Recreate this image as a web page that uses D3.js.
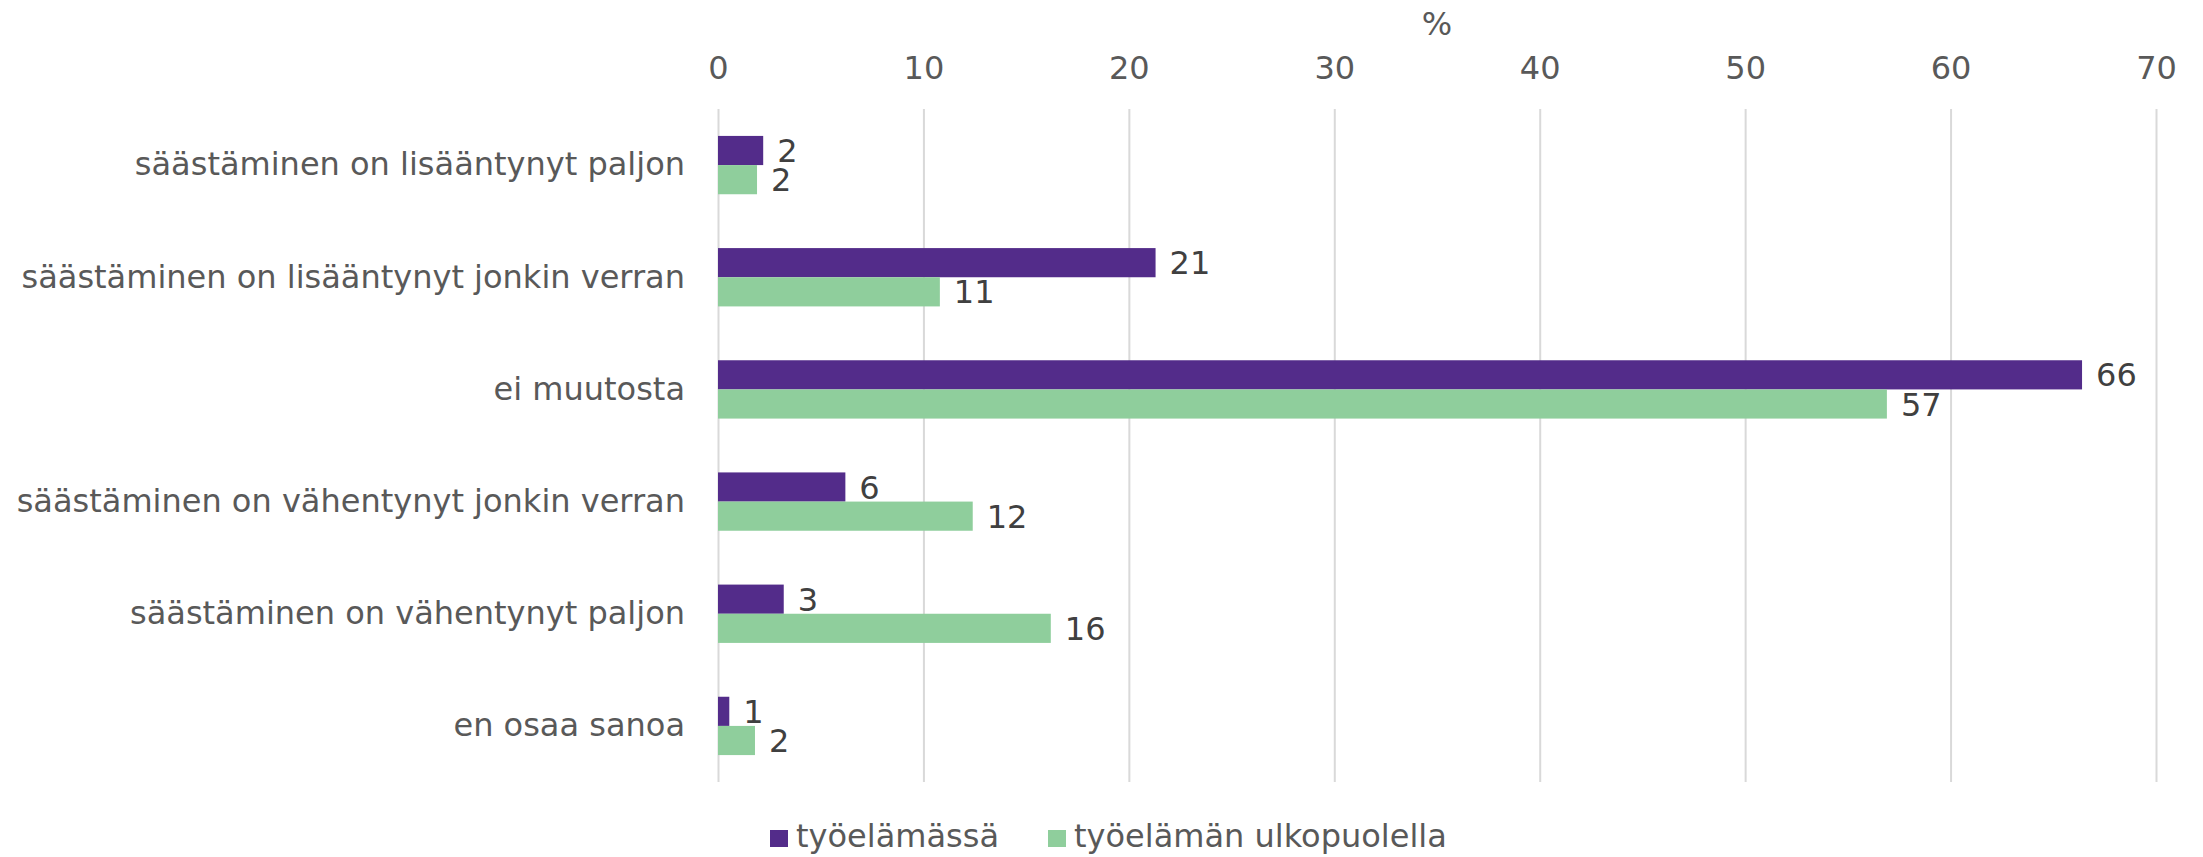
<!DOCTYPE html>
<html>
<head>
<meta charset="utf-8">
<script src="https://cdn.jsdelivr.net/npm/d3@7"></script>
<style>
  body { margin: 0; background: #fff; }
  svg text { font-family: "DejaVu Sans", Verdana, sans-serif; }
</style>
</head>
<body>
<svg id="chart" width="2203" height="857"></svg>
<script>
// categories, top to bottom
var categories = [
    "säästäminen on lisääntynyt paljon",
    "säästäminen on lisääntynyt jonkin verran",
    "ei muutosta",
    "säästäminen on vähentynyt jonkin verran",
    "säästäminen on vähentynyt paljon",
    "en osaa sanoa"
];
var seriesNames = ["työelämässä", "työelämän ulkopuolella"];
var inWork = [2.2, 21.3, 66.4, 6.2, 3.2, 0.55];      // työelämässä
var outsideWork = [1.9, 10.8, 56.9, 12.4, 16.2, 1.8]; // työelämän ulkopuolella
var xTicks = [0, 10, 20, 30, 40, 50, 60, 70];
var colors = ["#532c8a", "#8fce9c"];

var svg = d3.select('#chart');
var fontSize = 32;
var plot = { left: 718, right: 2156, top: 109, bottom: 782 };

var x = d3.scaleLinear().domain([0, 70]).range([plot.left, plot.right]);
var y = d3.scaleBand().domain(categories).range([plot.top, plot.bottom])
    .paddingInner(0.48).paddingOuter(0.24);
var ySub = d3.scaleBand().domain(seriesNames).range([0, y.bandwidth()]);

// gridlines
var grid = svg.append('g')
    .attr('transform', 'translate(0,' + plot.bottom + ')')
    .call(d3.axisBottom(x).tickValues(xTicks).tickSize(-(plot.bottom - plot.top)).tickFormat(''));
grid.select('.domain').remove();
grid.selectAll('line').attr('stroke', '#d9d9d9').attr('stroke-width', 2);

// tick labels on top
var xAxis = svg.append('g')
    .attr('transform', 'translate(0,82)')
    .call(d3.axisTop(x).tickValues(xTicks).tickSize(0).tickPadding(3));
xAxis.select('.domain').remove();
xAxis.selectAll('text')
    .attr('font-size', fontSize)
    .attr('font-family', '"DejaVu Sans", Verdana, sans-serif')
    .attr('fill', '#595959');

// axis title
svg.append('text')
    .attr('x', (plot.left + plot.right) / 2)
    .attr('y', 35)
    .attr('text-anchor', 'middle')
    .attr('font-size', fontSize)
    .attr('fill', '#595959')
    .text('%');

// category labels
var yAxis = svg.append('g')
    .attr('transform', 'translate(' + plot.left + ',0)')
    .call(d3.axisLeft(y).tickSize(0).tickPadding(33));
yAxis.select('.domain').remove();
yAxis.selectAll('text')
    .attr('font-size', fontSize)
    .attr('font-family', '"DejaVu Sans", Verdana, sans-serif')
    .attr('fill', '#595959');

// bars
var rows = categories.map(function (c, i) {
    return { cat: c, vals: [inWork[i], outsideWork[i]] };
});
var fmt = d3.format('.0f');

var groups = svg.append('g').selectAll('g')
    .data(rows)
    .join('g')
    .attr('transform', function (d) { return 'translate(0,' + y(d.cat) + ')'; });

groups.selectAll('rect')
    .data(function (d) { return d.vals.map(function (v, j) { return { s: seriesNames[j], v: v, j: j }; }); })
    .join('rect')
    .attr('x', x(0))
    .attr('y', function (d) { return ySub(d.s); })
    .attr('width', function (d) { return x(d.v) - x(0); })
    .attr('height', ySub.bandwidth())
    .attr('fill', function (d) { return colors[d.j]; });

groups.selectAll('text')
    .data(function (d) { return d.vals.map(function (v, j) { return { s: seriesNames[j], v: v }; }); })
    .join('text')
    .attr('x', function (d) { return x(d.v) + 14; })
    .attr('y', function (d) { return ySub(d.s) + ySub.bandwidth() / 2; })
    .attr('dy', '0.36em')
    .attr('font-size', fontSize)
    .attr('fill', '#404040')
    .text(function (d) { return fmt(d.v); });

// legend
var legendPos = [770, 1048];
var legend = svg.append('g').selectAll('g')
    .data(seriesNames)
    .join('g')
    .attr('transform', function (d, i) { return 'translate(' + legendPos[i] + ',830)'; });
legend.append('rect')
    .attr('width', 18)
    .attr('height', 17)
    .attr('fill', function (d, i) { return colors[i]; });
legend.append('text')
    .attr('x', 26)
    .attr('y', 8.5)
    .attr('dy', '0.28em')
    .attr('font-size', fontSize)
    .attr('fill', '#595959')
    .text(function (d) { return d; });
</script>
</body>
</html>
